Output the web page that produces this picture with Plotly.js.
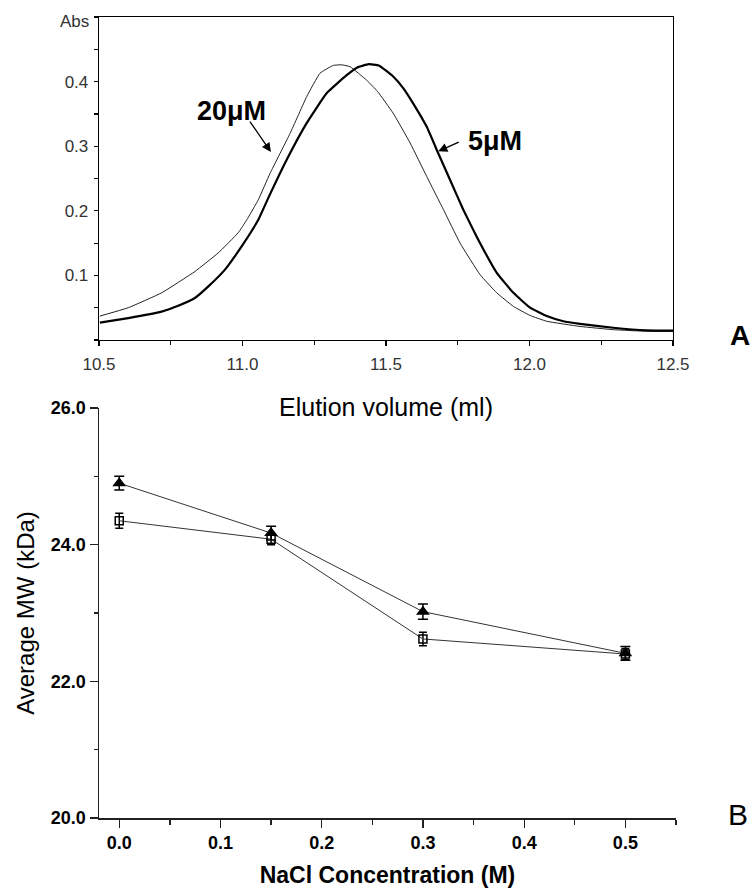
<!DOCTYPE html>
<html><head><meta charset="utf-8">
<script src="https://cdn.plot.ly/plotly-3.0.1.min.js"></script>
<style>html,body{margin:0;padding:0;background:#fff}</style>
</head><body><div id="chart" style="width:754px;height:888px"></div>
<script>
// Panel A: elution profiles
const elution20 = [10.503, 10.602, 10.718, 10.834, 10.916, 10.985, 11.015, 11.055, 11.096, 11.166, 11.224, 11.270, 11.316, 11.345, 11.375, 11.433, 11.470, 11.525, 11.584, 11.642, 11.700, 11.758, 11.828, 11.886, 11.944, 12.002, 12.060, 12.176, 12.292, 12.408, 12.500];
const abs20 = [0.037, 0.050, 0.073, 0.106, 0.135, 0.166, 0.186, 0.217, 0.258, 0.320, 0.377, 0.413, 0.425, 0.426, 0.423, 0.402, 0.385, 0.351, 0.305, 0.253, 0.202, 0.150, 0.101, 0.073, 0.052, 0.038, 0.029, 0.021, 0.016, 0.0135, 0.0135];
const elution5 = [10.503, 10.602, 10.718, 10.776, 10.834, 10.881, 10.939, 10.997, 11.055, 11.090, 11.154, 11.224, 11.293, 11.363, 11.400, 11.440, 11.475, 11.525, 11.560, 11.595, 11.642, 11.682, 11.723, 11.769, 11.816, 11.886, 11.944, 12.002, 12.060, 12.118, 12.176, 12.292, 12.408, 12.500];
const abs5 = [0.027, 0.034, 0.044, 0.053, 0.065, 0.083, 0.109, 0.145, 0.186, 0.220, 0.279, 0.336, 0.382, 0.410, 0.422, 0.427, 0.425, 0.408, 0.390, 0.366, 0.330, 0.289, 0.248, 0.202, 0.160, 0.104, 0.073, 0.050, 0.037, 0.029, 0.025, 0.019, 0.015, 0.0145];
const absTickVals = [0.1, 0.2, 0.3, 0.4];
const absTickText = ["0.1", "0.2", "0.3", "0.4"];
const elutionTickVals = [10.5, 11.0, 11.5, 12.0, 12.5];
const elutionTickText = ["10.5", "11.0", "11.5", "12.0", "12.5"];

// Panel B: average MW vs NaCl
const nacl = [0, 0.15, 0.3, 0.5];
const mwTriangle = [24.90, 24.17, 23.02, 22.41];
const errTriangle = [0.10, 0.10, 0.11, 0.10];
const mwSquare = [24.35, 24.08, 22.62, 22.40];
const errSquare = [0.11, 0.08, 0.10, 0.08];
const naclTickVals = [0, 0.1, 0.2, 0.3, 0.4, 0.5];
const naclTickText = ["0.0", "0.1", "0.2", "0.3", "0.4", "0.5"];
const mwTickVals = [20, 22, 24, 26];
const mwTickText = ["20.0", "22.0", "24.0", "26.0"];

const F = "Arial, 'Liberation Sans', sans-serif";

const traces = [
  {x: elution20, y: abs20, xaxis: 'x', yaxis: 'y', mode: 'lines', name: '20μM',
   line: {color: '#222', width: 1, shape: 'spline', smoothing: 0.35}},
  {x: elution5, y: abs5, xaxis: 'x', yaxis: 'y', mode: 'lines', name: '5μM',
   line: {color: '#000', width: 2.2, shape: 'spline', smoothing: 0.35}},
  {x: nacl, y: mwSquare, xaxis: 'x2', yaxis: 'y2', mode: 'lines+markers', name: 'square',
   line: {color: '#333', width: 1},
   marker: {symbol: 'square-open', size: 8, color: '#000', line: {width: 1.5, color: '#000'}},
   error_y: {type: 'data', array: errSquare, visible: true, color: '#000', thickness: 1.5, width: 4}},
  {x: nacl, y: mwTriangle, xaxis: 'x2', yaxis: 'y2', mode: 'lines+markers', name: 'triangle',
   line: {color: '#333', width: 1},
   marker: {symbol: 'triangle-up', size: 12, color: '#000'},
   error_y: {type: 'data', array: errTriangle, visible: true, color: '#000', thickness: 1.5, width: 5}}
];

const layout = {
  width: 754, height: 888,
  margin: {l: 0, r: 0, t: 0, b: 0},
  paper_bgcolor: '#fff', plot_bgcolor: '#fff',
  showlegend: false,
  font: {family: F, color: '#000'},
  xaxis: {
    domain: [99/754, 673/754], anchor: 'y', range: [10.5, 12.5],
    tickmode: 'array', tickvals: elutionTickVals, ticktext: elutionTickText,
    ticks: 'outside', ticklen: 5, tickwidth: 1.2, tickcolor: '#000',
    minor: {ticks: 'outside', ticklen: 4, tickwidth: 1.2, tickcolor: '#000', dtick: 0.25, tick0: 10.5},
    showline: true, linecolor: '#000', linewidth: 1.3, mirror: true,
    showgrid: false, zeroline: false, ticklabelstandoff: 3,
    tickfont: {family: F, size: 17, color: '#333'},
    title: {text: 'Elution volume (ml)', font: {family: F, size: 25, color: '#000'}, standoff: 25}
  },
  yaxis: {
    domain: [1 - 340/888, 1 - 17/888], anchor: 'x', range: [0, 0.5],
    tickmode: 'array', tickvals: absTickVals, ticktext: absTickText,
    ticks: 'outside', ticklen: 4, tickwidth: 1.2, tickcolor: '#000',
    minor: {ticks: 'outside', ticklen: 4, tickwidth: 1.2, tickcolor: '#000', dtick: 0.05, tick0: 0},
    showline: true, linecolor: '#000', linewidth: 1.3, mirror: true,
    showgrid: false, zeroline: false, ticklabelstandoff: 2,
    tickfont: {family: F, size: 17, color: '#333'}
  },
  xaxis2: {
    domain: [99/754, 676/754], anchor: 'y2', range: [-0.02, 0.55],
    tickmode: 'array', tickvals: naclTickVals, ticktext: naclTickText,
    ticks: 'outside', ticklen: 8, tickwidth: 1.3, tickcolor: '#222',
    minor: {ticks: 'outside', ticklen: 5, tickwidth: 1.3, tickcolor: '#222', dtick: 0.05, tick0: 0},
    showline: true, linecolor: '#222', linewidth: 1.5,
    showgrid: false, zeroline: false,
    tickfont: {family: F, size: 18, color: '#000', weight: 'bold'},
    title: {text: 'NaCl Concentration (M)', font: {family: F, size: 23, color: '#000', weight: 'bold'}, standoff: 19}
  },
  yaxis2: {
    domain: [1 - 818/888, 1 - 408/888], anchor: 'x2', range: [20, 26],
    tickmode: 'array', tickvals: mwTickVals, ticktext: mwTickText,
    ticks: 'outside', ticklen: 8, tickwidth: 1.3, tickcolor: '#222',
    minor: {ticks: 'outside', ticklen: 4, tickwidth: 1.3, tickcolor: '#222', dtick: 1, tick0: 20},
    showline: true, linecolor: '#222', linewidth: 1.5,
    showgrid: false, zeroline: false,
    tickfont: {family: F, size: 18, color: '#000', weight: 'bold'},
    title: {text: 'Average MW (kDa)', font: {family: F, size: 24, color: '#000'}, standoff: 9}
  },
  annotations: [
    {xref: 'paper', yref: 'paper', x: 91/754, y: 1 - 22/888, xanchor: 'right', yanchor: 'middle',
     text: 'Abs', showarrow: false, font: {family: F, size: 17, color: '#333'}},
    {xref: 'x', yref: 'y', x: 10.963, y: 0.3546, text: '<b>20μM</b>', showarrow: false,
     xanchor: 'center', yanchor: 'middle', font: {family: F, size: 27, color: '#000'}},
    {xref: 'x', yref: 'y', x: 11.881, y: 0.308, text: '<b>5μM</b>', showarrow: false,
     xanchor: 'center', yanchor: 'middle', font: {family: F, size: 27, color: '#000'}},
    {xref: 'x', yref: 'y', x: 11.099, y: 0.291, text: '', showarrow: true, ax: -22, ay: -32,
     arrowhead: 2, arrowsize: 1.4, arrowwidth: 1.3, arrowcolor: '#000', standoff: 0, startstandoff: 0},
    {xref: 'x', yref: 'y', x: 11.682, y: 0.292, text: '', showarrow: true, ax: 22, ay: -10,
     arrowhead: 2, arrowsize: 1.4, arrowwidth: 1.3, arrowcolor: '#000', standoff: 0, startstandoff: 0},
    {xref: 'paper', yref: 'paper', x: 740/754, y: 1 - 335/888, xanchor: 'center', yanchor: 'middle',
     text: '<b>A</b>', showarrow: false, font: {family: F, size: 28, color: '#000'}},
    {xref: 'paper', yref: 'paper', x: 738/754, y: 1 - 814/888, xanchor: 'center', yanchor: 'middle',
     text: 'B', showarrow: false, font: {family: F, size: 30, color: '#000'}}
  ]
};

Plotly.newPlot('chart', traces, layout, {displayModeBar: false, staticPlot: true});
</script>
</body></html>
